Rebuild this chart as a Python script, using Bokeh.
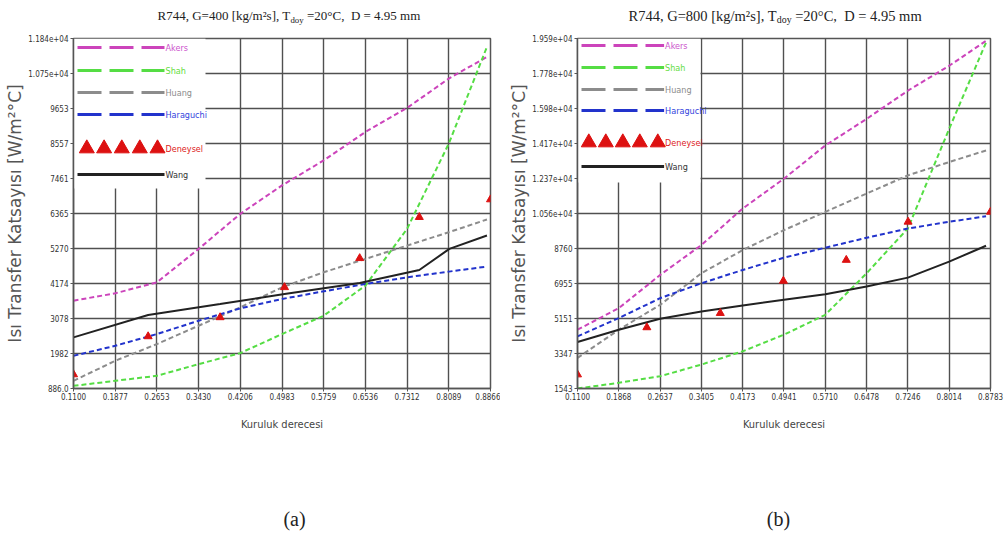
from bokeh.plotting import figure
from bokeh.layouts import row, column
from bokeh.models import Range1d, FixedTicker, Label, BoxAnnotation
from bokeh.embed import file_html
from bokeh.resources import INLINE

# ---------------- panel (a): G = 400 kg/m2s ----------------
xtick_a = ["0.1100", "0.1877", "0.2653", "0.3430", "0.4206", "0.4983",
           "0.5759", "0.6536", "0.7312", "0.8089", "0.8866"]
ytick_a = ["886.0", "1982", "3078", "4174", "5270", "6365", "7461",
           "8557", "9653", "1.075e+04", "1.184e+04"]

x_model_a = [0.11, 0.1877, 0.2653, 0.343, 0.4206, 0.4983, 0.5759, 0.6536, 0.7312, 0.8089, 0.880]
akers_a = [3635, 3865, 4209, 5255, 6353, 7241, 8025, 8914, 9666, 10586, 11265]
shah_a = [969, 1126, 1283, 1649, 1994, 2589, 3164, 4105, 5882, 8548, 11579]
huang_a = [1126, 1753, 2276, 2851, 3426, 4053, 4523, 4941, 5359, 5777, 6175]
haraguchi_a = [1910, 2223, 2589, 3007, 3394, 3687, 3927, 4157, 4366, 4544, 4701]
wang_x_a = [0.11, 0.249, 0.383, 0.503, 0.643, 0.754, 0.81, 0.88]
wang_a = [2485, 3185, 3530, 3844, 4189, 4596, 5255, 5673]
exp_x_a = [0.11, 0.249, 0.383, 0.503, 0.643, 0.754, 0.8866]
exp_a = [1326, 2516, 3112, 4053, 4962, 6248, 6802]

# ---------------- panel (b): G = 800 kg/m2s ----------------
xtick_b = ["0.1100", "0.1868", "0.2637", "0.3405", "0.4173", "0.4941",
           "0.5710", "0.6478", "0.7246", "0.8014", "0.8783"]
ytick_b = ["1543", "3347", "5151", "6955", "8760", "1.056e+04", "1.237e+04",
           "1.417e+04", "1.598e+04", "1.778e+04", "1.959e+04"]

x_model_b = [0.11, 0.1868, 0.2637, 0.3405, 0.4173, 0.4941, 0.571, 0.6478, 0.7246, 0.8014, 0.870]
akers_b = [4573, 5686, 7398, 8939, 10822, 12363, 14075, 15444, 16900, 18184, 19468]
shah_b = [1543, 1834, 2176, 2776, 3460, 4317, 5344, 7484, 9795, 14931, 19382]
huang_b = [3118, 4573, 5857, 7484, 8682, 9710, 10651, 11592, 12534, 13219, 13818]
haraguchi_b = [4231, 5172, 6200, 6970, 7655, 8288, 8802, 9315, 9795, 10137, 10428]
wang_x_b = x_model_b
wang_b = [3940, 4573, 5138, 5515, 5823, 6114, 6405, 6799, 7261, 8083, 8905]
exp_x_b = [0.11, 0.239, 0.3756, 0.493, 0.610, 0.725, 0.8783]
exp_b = [2262, 4693, 5429, 7090, 8169, 10137, 10651]

series_names = ["Akers", "Shah", "Huang", "Haraguchi", "Deneysel", "Wang"]
line_colors = {"Akers": "#cc44bb", "Shah": "#55dd44", "Huang": "#8c8c8c",
               "Haraguchi": "#2233cc", "Deneysel": "#dd1111", "Wang": "#222222"}
text_colors = {"Akers": "#cc55cc", "Shah": "#66dd44", "Huang": "#8c8c8c",
               "Haraguchi": "#3344dd", "Deneysel": "#dd2222", "Wang": "#333333"}

NARROW = "'DejaVu Sans Condensed', 'Liberation Sans'"
SERIF = "Liberation Serif"

TITLE_H = 30      # strip holding the chart titles
CHART_H = 460     # strip holding the two charts
TAG_H = 46        # strip holding the (a) / (b) tags
TOP_B, BOTTOM_B = 8, 102
NBSP = "\u00a0"


def text_strip(width, height, left, right):
    """Blank figure used for free text; x is measured from the chart frame's left edge."""
    fw = width - left - right
    s = figure(width=width, height=height, title=None,
               x_range=Range1d(0, fw), y_range=Range1d(0, height),
               x_axis_type=None, y_axis_type=None,
               output_backend="svg", toolbar_location=None,
               min_border_left=left, min_border_right=right,
               min_border_top=0, min_border_bottom=0)
    s.outline_line_color = None
    s.grid.visible = False
    s.background_fill_color = "white"
    s.border_fill_color = "white"
    return s


def title_strip(width, left, right, g_value, size, x_start):
    s = text_strip(width, TITLE_H, left, right)
    w1 = size * 10.225            # width of "R744, G=... [kg/m²s], T"
    sub = size * 0.68
    w_sub = sub * 1.5             # width of "doy"
    yc = TITLE_H - 15
    s.add_layout(Label(x=x_start, y=yc, text=f"R744, G={g_value} [kg/m²s], T",
                       text_font=SERIF, text_font_size=f"{size}px",
                       text_color="#222222", text_baseline="middle"))
    s.add_layout(Label(x=x_start + w1, y=yc - 4, text="doy", text_font=SERIF,
                       text_font_size=f"{sub:.1f}px",
                       text_color="#222222", text_baseline="middle"))
    s.add_layout(Label(x=x_start + w1 + w_sub, y=yc,
                       text=f"{NBSP}=20°C,{NBSP}{NBSP}D = 4.95 mm",
                       text_font=SERIF, text_font_size=f"{size}px",
                       text_color="#222222", text_baseline="middle"))
    return s


def tag_strip(width, left, right, tag, xc):
    s = text_strip(width, TAG_H, left, right)
    s.add_layout(Label(x=xc, y=18, text=tag, text_font=SERIF,
                       text_font_size="20px", text_color="#222222",
                       text_baseline="middle", text_align="center"))
    return s


def chart(width, left, right, xlabels, ylabels,
          x_model, akers, shah, huang, haraguchi, wang_x, wang, exp_x, exp,
          legend_rows, legend_line, tri_x, legend_box):
    fw = width - left - right
    fh = CHART_H - TOP_B - BOTTOM_B
    xt = [float(s) for s in xlabels]
    yt = [float(s) for s in ylabels]
    x0, x1, y0, y1 = xt[0], xt[-1], yt[0], yt[-1]

    def at(px, py):
        # pixel offset from the frame's top-left corner -> data coordinates
        return x0 + px / fw * (x1 - x0), y1 - py / fh * (y1 - y0)

    p = figure(width=width, height=CHART_H, title=None,
               x_range=Range1d(x0, x1), y_range=Range1d(y0, y1),
               output_backend="svg", toolbar_location=None,
               min_border_left=left, min_border_right=right,
               min_border_top=TOP_B, min_border_bottom=BOTTOM_B)
    p.background_fill_color = "white"
    p.border_fill_color = "white"
    p.outline_line_color = "#555555"
    p.outline_line_width = 1.5

    p.xaxis.ticker = FixedTicker(ticks=xt)
    p.xaxis.major_label_overrides = dict(zip(xt, xlabels))
    p.yaxis.ticker = FixedTicker(ticks=yt)
    p.yaxis.major_label_overrides = dict(zip(yt, ylabels))
    for ax in (p.xaxis, p.yaxis):
        ax.minor_tick_line_color = None
        ax.major_tick_in = 0
        ax.major_tick_out = 3
        ax.major_tick_line_color = "#555555"
        ax.axis_line_color = "#555555"
        ax.axis_line_width = 1.5
        ax.major_label_text_font = NARROW
        ax.major_label_text_font_size = "8px"
        ax.major_label_text_color = "#333333"
    p.xaxis.major_label_standoff = 1
    p.yaxis.major_label_standoff = 2

    p.xaxis.axis_label = "Kuruluk derecesi"
    p.xaxis.axis_label_text_font = NARROW
    p.xaxis.axis_label_text_font_size = "11px"
    p.xaxis.axis_label_text_font_style = "normal"
    p.xaxis.axis_label_text_color = "#444444"
    p.xaxis.axis_label_standoff = 15

    p.yaxis.axis_label = "Isı Transfer Katsayısı [W/m²°C]"
    p.yaxis.axis_label_text_font = "DejaVu Sans"
    p.yaxis.axis_label_text_font_size = "17px"
    p.yaxis.axis_label_text_font_style = "normal"
    p.yaxis.axis_label_text_color = "#555555"
    p.yaxis.axis_label_standoff = 0

    p.grid.grid_line_color = "#505050"
    p.grid.grid_line_width = 1.4

    # white legend panel covering the grid
    lx, ly = at(legend_box[0], legend_box[1])
    p.add_layout(BoxAnnotation(left=x0, right=lx, top=y1, bottom=ly,
                               fill_color="white", fill_alpha=1.0,
                               line_alpha=0, level="underlay"))

    # model curves
    dash = "5 3"
    p.line(x_model, akers, line_color=line_colors["Akers"], line_width=2, line_dash=dash)
    p.line(x_model, shah, line_color=line_colors["Shah"], line_width=2, line_dash=dash)
    p.line(x_model, huang, line_color=line_colors["Huang"], line_width=2, line_dash=dash)
    p.line(x_model, haraguchi, line_color=line_colors["Haraguchi"], line_width=2, line_dash=dash)
    p.line(wang_x, wang, line_color=line_colors["Wang"], line_width=2)
    p.scatter(exp_x, exp, marker="triangle", size=8,
              fill_color=line_colors["Deneysel"], line_color=line_colors["Deneysel"])

    # legend entries
    for name, ry in zip(series_names, legend_rows):
        col = line_colors[name]
        if name == "Deneysel":
            pts = [at(tx, ry) for tx in tri_x]
            p.scatter([q[0] for q in pts], [q[1] for q in pts], marker="triangle",
                      size=15, fill_color=col, line_color=col)
        else:
            a = at(legend_line[0], ry)
            b = at(legend_line[1], ry)
            p.line([a[0], b[0]], [a[1], b[1]], line_color=col, line_width=3,
                   line_dash="solid" if name == "Wang" else "24 8")
        tx, ty = at(legend_line[1] + 1, ry)
        p.add_layout(Label(x=tx, y=ty, text=name, text_font=NARROW,
                           text_font_size="9px", text_color=text_colors[name],
                           text_baseline="middle", text_align="left"))
    return p


LA, RA = 73, 10     # horizontal borders of panel (a)
LB, RB = 77, 15     # horizontal borders of panel (b)

pa = chart(500, LA, RA, xtick_a, ytick_a,
           x_model_a, akers_a, shah_a, huang_a, haraguchi_a,
           wang_x_a, wang_a, exp_x_a, exp_a,
           [9, 32, 54, 76, 110, 136], (4, 91),
           [13.3, 30.6, 48.3, 66.3, 84], (132, 150))

pb = chart(505, LB, RB, xtick_b, ytick_b,
           x_model_b, akers_b, shah_b, huang_b, haraguchi_b,
           wang_x_b, wang_b, exp_x_b, exp_b,
           [7, 29, 51, 72, 104, 128], (4, 86.6),
           [11.3, 28.3, 45.3, 62.3, 80.3], (123, 144))

layout = column(
    row(title_strip(500, LA, RA, 400, 13, 84), title_strip(505, LB, RB, 800, 14.5, 51)),
    row(pa, pb),
    row(tag_strip(500, LA, RA, "(a)", 221), tag_strip(505, LB, RB, "(b)", 201)),
)
open("out.html", "w").write(file_html(layout, INLINE))
